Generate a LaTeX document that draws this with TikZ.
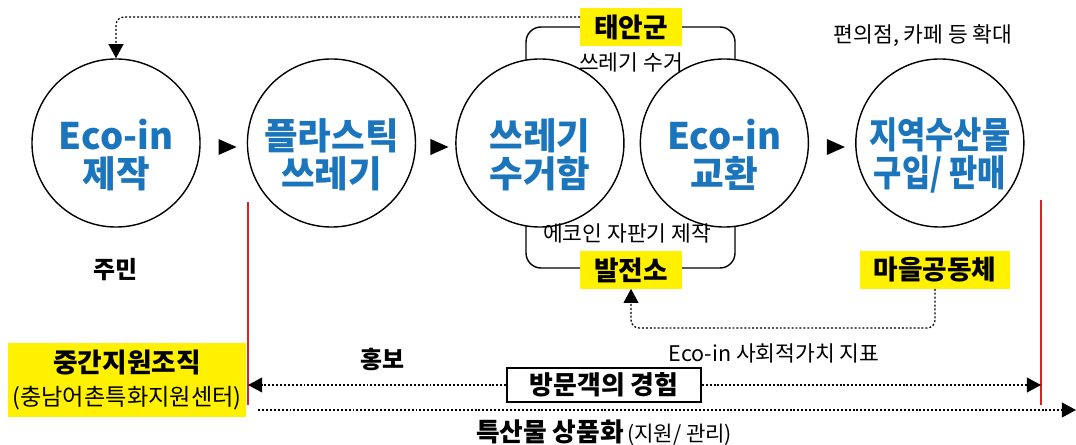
\documentclass[tikz,border=0pt]{standalone}
\usepackage{fontspec}
\setmainfont{Noto Sans CJK KR}
\usetikzlibrary{positioning,arrows.meta,shapes.geometric}
\definecolor{ecoblue}{RGB}{27,117,188}
\definecolor{tagyellow}{RGB}{255,241,0}
\definecolor{linered}{RGB}{227,30,36}
\newcommand{\circtext}[1]{\raisebox{-0.3cm}[\height][\depth]{\vbox{\halign{\hfil##\hfil\cr#1\crcr}}}}

\begin{document}
\begin{tikzpicture}[x=0.025cm,y=-0.025cm,>={Triangle[length=10pt,width=10.5pt]},
  circ/.style={circle,draw,line width=1pt,fill=white,minimum size=4.2cm,inner sep=0pt,
    text=ecoblue,font=\bfseries\fontsize{26}{27}\selectfont},
  tag/.style={fill=tagyellow,inner xsep=0.35cm,minimum height=0.925cm,
    font=\bfseries\fontsize{19}{22}\selectfont},
  note/.style={font=\fontsize{15.3}{18}\selectfont},
  head/.style={font=\bfseries\fontsize{17}{20}\selectfont},
  tri/.style={isosceles triangle,isosceles triangle stretches,fill=black,inner sep=0pt,
    minimum width=0.4cm,minimum height=0.45cm,yshift=-0.1cm},
  dotline/.style={line width=0.9pt,dash pattern=on 1.4pt off 1.4pt},
  redline/.style={draw=linered,line width=0.8pt}]
  \useasboundingbox (0,0) rectangle (1076,445);

  \draw[line width=1pt,rounded corners=0.375cm] (526,27) rectangle (735,268);

  \node[circ] (make) at (116,143) {\circtext{Eco-in\cr 제작}};
  \node[circ,right=1.15cm of make] (plastic) {\circtext{플라스틱\cr 쓰레기}};
  \node[circ,right=0.975cm of plastic] (bin) {\circtext{쓰레기\cr 수거함}};
  \node[circ,right=0.375cm of bin] (swap) {\circtext{Eco-in\cr 교환}};
  \node[circ,right=1.15cm of swap] (market)
    {\circtext{\scalebox{0.84}[1]{지역수산물}\cr\scalebox{0.84}[1]{구입/ 판매}}};

  \path (make) -- node[tri] {} (plastic);
  \path (plastic) -- node[tri] {} (bin);
  \path (swap) -- node[tri] {} (market);

  \node[tag] (taean) at (631,27) {태안군};
  \node[tag] (power) at (631,270) {발전소};
  \node[tag] (village) at (935,270) {마을공동체};
  \node[note] (collect) at (631,62) {쓰레기 수거};
  \node[note] (vend) at (627,233) {에코인 자판기 제작};
  \node[note] (shop) at (923,36) {편의점, 카페 등 확대};
  \node[head] (resident) at (115,270) {주민};
  \node[head] (promo) at (382,360) {홍보};
  \node[note] (index) at (774,353) {Eco-in 사회적가치 지표};
  \node[draw,line width=1pt,minimum width=4.85cm,minimum height=0.85cm,
    font=\bfseries\fontsize{18.4}{21}\selectfont] (visit) at (604,385) {방문객의 경험};
  \node[fill=tagyellow,minimum width=5.9cm,minimum height=1.825cm,align=center,
    font=\fontsize{19}{23.5}\selectfont] (hub) at (127,380)
    {{\bfseries 중간지원조직}\\{\fontsize{16.5}{20}\selectfont (충남어촌특화지원센터)}};
  \node (goods) at (604,433) {{\bfseries\fontsize{18.3}{21}\selectfont 특산물 상품화}
    {\fontsize{15}{18}\selectfont (지원/ 관리)}};

  \coordinate (lt) at (248,202);
  \coordinate (lb) at (248,405);
  \coordinate (rt) at (1041,200);
  \coordinate (rb) at (1041,405);
  \draw[redline] (lt) -- (lb);
  \draw[redline] (rt) -- (rb);

  \coordinate (loop) at (580,17);
  \coordinate (turn) at (780,328);
  \coordinate (gs) at (258,410);
  \coordinate (ge) at (1076,410);
  \draw[dotline,->,rounded corners=0.2cm] (loop) -| (make.north);
  \draw[dotline,->,rounded corners=0.2cm] (village.south) |- (turn) -| (power.south);
  \draw[dotline,->] (visit.west) -- (visit.west -| lb);
  \draw[dotline,->] (visit.east) -- (visit.east -| rb);
  \draw[dotline,->] (gs) -- (ge);
\end{tikzpicture}
\end{document}
